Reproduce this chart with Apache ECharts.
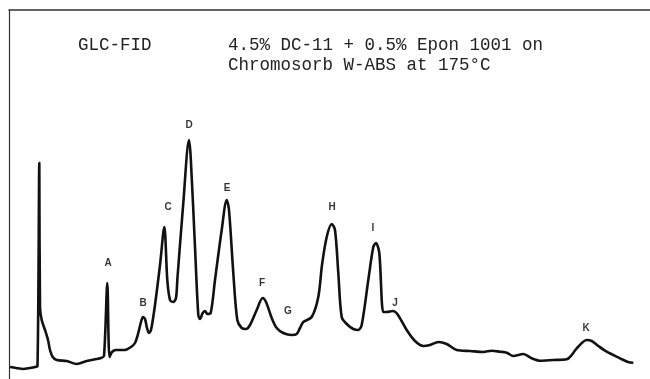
<!DOCTYPE html>
<html>
<head>
<meta charset="utf-8">
<script src="https://cdn.jsdelivr.net/npm/echarts@6/dist/echarts.min.js"></script>
<style>html,body{margin:0;padding:0;background:#fff;}#c{width:650px;height:379px;}</style>
</head>
<body>
<div id="c"></div>
<script>
// retention (arbitrary chart units) and detector response (arbitrary units)
const retention = [1,7,14,21,26,28.5,30.3,31,32.7,36,39,41,43.7,47.7,57.7,67.7,77.7,87.7,92,95,98.3,100.5,103,107,116,122,126,129,132,134,136,138,140,142,146,151,155.3,158.3,161,164.3,167,168.3,174.3,180,181.7,186,189.3,191,193.7,196,198.3,201.7,206,212.7,217.7,220,224.3,228.3,232.7,237,241,247.7,253.7,257,262.7,267.7,274.3,282.7,287.7,291,294.3,302.7,309.3,313,317.7,322.7,326,329.3,332.7,337.7,344.3,349.3,352.7,359.3,364.3,367,370.3,374.3,377.7,383.7,388.3,397.7,406,414.3,421,429.3,437.7,447.7,461,474.3,482.7,491,497.7,504.3,514.3,522.7,531,544.3,557.7,562.7,567.7,577.7,582.7,589.3,597.7,611,619,624.3];
const response = [12,11,10,11,12,13,216,72,59,49,39,29,22,19,18,15,18,20,21,23,96,22,27,29,29,32,36,45,57,62,60,51,46,49,74,114,152,99,79,77,81,99,176,239,222,132,64,60,66,68,65,66,99,149,179,169,106,59,51,50,54,69,81,77,61,51,46,44,45,51,57,62,82,114,142,155,149,106,62,55,50,49,54,99,132,136,126,67,67,68,65,49,38,33,34,37,35,29,28,27,28.3,27.3,26.3,23,25,20.7,18.3,19,19.7,24,30.7,39,38,33,27.3,20.7,17,16.3];
// peak annotations
const peakNames = ["A","B","C","D","E","F","G","H","I","J","K"];
const peakLabelRetention = [99,134,159,180,218,253,279,323,364,386,577];
const peakLabelResponse = [116,76,172,254,191,96,68,172,151,76,51];
const titleLine = "GLC-FID";
const condLine1 = "4.5% DC-11 + 0.5% Epon 1001 on";
const condLine2 = "Chromosorb W-ABS at 175\u00B0C";

const trace = retention.map((t, i) => [t, response[i]]);
const labels = peakNames.map((n, i) => ({ name: n, value: [peakLabelRetention[i], peakLabelResponse[i]] }));

const chart = echarts.init(document.getElementById('c'), null, { renderer: 'canvas' });
const monoText = { fontFamily: '"Liberation Mono", "DejaVu Sans Mono", monospace', fontSize: 17.5, color: '#222', fontWeight: 'normal' };
chart.setOption({
  animation: false,
  backgroundColor: '#fff',
  title: [
    { text: titleLine, left: 78, top: 36, padding: 0, textStyle: monoText },
    { text: condLine1, left: 228, top: 36, padding: 0, textStyle: monoText },
    { text: condLine2, left: 228, top: 56, padding: 0, textStyle: monoText }
  ],
  grid: { left: 9, right: 0, top: 10, bottom: 0 },
  xAxis: {
    type: 'value', min: 0, max: 641, position: 'top',
    axisLine: { show: true, onZero: false, lineStyle: { color: '#333', width: 1.5 } },
    axisTick: { show: false }, axisLabel: { show: false }, splitLine: { show: false }
  },
  yAxis: {
    type: 'value', min: 0, max: 369,
    axisLine: { show: true, onZero: false, lineStyle: { color: '#333', width: 1.2 } },
    axisTick: { show: false }, axisLabel: { show: false }, splitLine: { show: false }
  },
  series: [
    {
      type: 'line', data: trace, showSymbol: false, symbol: 'none',
      smooth: 0.3,
      lineStyle: { color: '#111', width: 2.6 }
    },
    {
      type: 'scatter', data: labels, symbolSize: 1,
      itemStyle: { color: 'transparent' },
      label: {
        show: true, position: 'inside', formatter: p => p.name,
        fontFamily: '"Liberation Sans", Arial, sans-serif', fontWeight: 'bold', fontSize: 10, color: '#000'
      }
    }
  ]
});
</script>
</body>
</html>
